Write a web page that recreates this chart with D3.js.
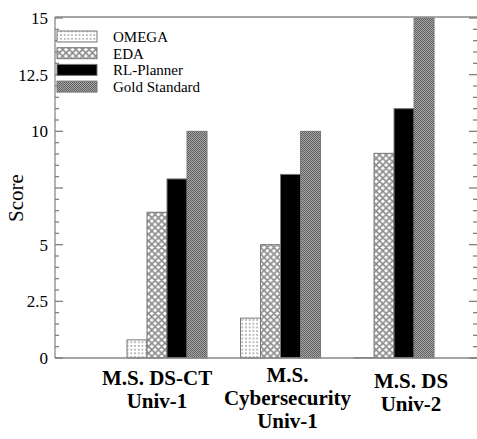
<!DOCTYPE html>
<html>
<head>
<meta charset="utf-8">
<script src="https://cdn.jsdelivr.net/npm/d3@7"></script>
<style>
  html, body { margin: 0; padding: 0; background: #fff; }
  svg { display: block; font-family: "Liberation Serif", "Times New Roman", serif; }
</style>
</head>
<body>
<svg id="chart" width="477" height="439"></svg>
<script>
'use strict'

const groups = [
  ['M.S. DS-CT', 'Univ-1'],
  ['M.S.', 'Cybersecurity', 'Univ-1'],
  ['M.S. DS', 'Univ-2']
]
const seriesNames = ['OMEGA', 'EDA', 'RL-Planner', 'Gold Standard']
const omega = [0.8, 1.76, 0.02]
const eda = [6.43, 5.0, 9.03]
const rlPlanner = [7.9, 8.1, 11.0]
const gold = [10, 10, 15]
const tickLabels = [0, 2.5, 5, 10, 12.5, 15]

const seriesValues = [omega, eda, rlPlanner, gold]
const fills = ['url(#pOmega)', 'url(#pEda)', '#000', 'url(#pGold)']

const svg = d3.select('#chart')
const plotL = 55
const plotR = 475
const plotT = 18
const plotB = 358

const x = d3.scaleLinear().domain([0, 3.7]).range([53.5, 473.5])
const xi = d3.scaleBand().domain(seriesNames).range([-40, 40])
const y = d3.scaleLinear().domain([0, 15]).range([plotB, plotT])

// patterns
const defs = svg.append('defs')
const pO = defs.append('pattern').attr('id', 'pOmega')
  .attr('patternUnits', 'userSpaceOnUse').attr('width', 3.7).attr('height', 3.7)
pO.append('rect').attr('width', 3.7).attr('height', 3.7).attr('fill', '#fff')
pO.append('rect').attr('x', 1.2).attr('y', 1.2).attr('width', 1.2).attr('height', 1.2).attr('fill', '#555')

const pE = defs.append('pattern').attr('id', 'pEda')
  .attr('patternUnits', 'userSpaceOnUse').attr('width', 6.6).attr('height', 6.6)
pE.append('rect').attr('width', 6.6).attr('height', 6.6).attr('fill', '#fff')
pE.append('path').attr('d', 'M0,0L6.6,6.6M6.6,0L0,6.6M-1,5.6L1,7.6M5.6,-1L7.6,1M-1,1L1,-1M5.6,7.6L7.6,5.6')
  .attr('stroke', '#8a8a8a').attr('stroke-width', 1.6)

const pG = defs.append('pattern').attr('id', 'pGold')
  .attr('patternUnits', 'userSpaceOnUse').attr('width', 2).attr('height', 2)
pG.append('rect').attr('width', 2).attr('height', 2).attr('fill', '#a8a8a8')
pG.append('rect').attr('width', 1).attr('height', 1).attr('fill', '#5e5e5e')
pG.append('rect').attr('x', 1).attr('y', 1).attr('width', 1).attr('height', 1).attr('fill', '#5e5e5e')

// bars
seriesNames.forEach((name, s) => {
  svg.append('g').selectAll('rect')
    .data(seriesValues[s])
    .join('rect')
    .attr('x', (d, i) => x(i + 1) + xi(name))
    .attr('width', xi.bandwidth())
    .attr('y', d => y(d))
    .attr('height', d => plotB - y(d))
    .attr('fill', fills[s])
    .attr('stroke', '#777')
    .attr('stroke-width', 1)
})

// frame
const frame = svg.append('g').attr('stroke', '#888').attr('stroke-width', 1.3).attr('fill', 'none')
frame.append('line').attr('x1', plotL).attr('x2', plotR + 2).attr('y1', plotB).attr('y2', plotB)
frame.append('line').attr('x1', plotL).attr('x2', plotR + 2).attr('y1', plotT - 1).attr('y2', plotT - 1)
frame.append('line').attr('x1', plotL).attr('x2', plotL).attr('y1', plotT - 1).attr('y2', plotB)

// ticks
const majors = d3.range(0, 15.01, 2.5)
const minors = d3.range(0, 15.01, 0.5).filter(v => Math.abs(v / 2.5 - Math.round(v / 2.5)) > 1e-6)
const tk = svg.append('g').attr('stroke', '#777').attr('stroke-width', 1.2)
tk.selectAll('.maj').data(majors).join('line').attr('class', 'maj')
  .attr('x1', plotL).attr('x2', plotL + 8).attr('y1', d => y(d)).attr('y2', d => y(d))
tk.selectAll('.min').data(minors).join('line').attr('class', 'min')
  .attr('x1', plotL).attr('x2', plotL + 4).attr('y1', d => y(d)).attr('y2', d => y(d))
tk.selectAll('.rmaj').data(majors).join('line').attr('class', 'rmaj')
  .attr('x1', plotR + 2).attr('x2', plotR - 6).attr('y1', d => y(d)).attr('y2', d => y(d))
tk.selectAll('.rmin').data(minors).join('line').attr('class', 'rmin')
  .attr('x1', plotR + 2).attr('x2', plotR - 2).attr('y1', d => y(d)).attr('y2', d => y(d))

svg.append('g').selectAll('text')
  .data(tickLabels)
  .join('text')
  .attr('x', plotL - 7)
  .attr('y', d => y(d) + 6)
  .attr('text-anchor', 'end')
  .attr('font-size', 17)
  .text(d => d)

svg.append('text')
  .attr('transform', `translate(23, ${(plotT + plotB) / 2 + 10}) rotate(-90)`)
  .attr('text-anchor', 'middle')
  .attr('font-size', 21)
  .text('Score')

// category labels
const labelShift = [-10, 7, 17]
const labelTop = [385, 382, 388]
groups.forEach((lines, i) => {
  const t = svg.append('text')
    .attr('text-anchor', 'middle')
    .attr('font-size', 21)
    .attr('font-weight', 'bold')
  lines.forEach((ln, j) => {
    t.append('tspan')
      .attr('x', x(i + 1) + labelShift[i])
      .attr('y', labelTop[i] + j * 23)
      .text(ln)
  })
})

// legend
const lg = svg.append('g')
seriesNames.forEach((name, s) => {
  const ry = 31 + s * 16.7
  lg.append('rect')
    .attr('x', 57).attr('y', ry).attr('width', 40).attr('height', 11)
    .attr('fill', fills[s]).attr('stroke', '#777').attr('stroke-width', 1)
  lg.append('text')
    .attr('x', 113).attr('y', ry + 11)
    .attr('font-size', 15)
    .text(name)
})
</script>
</body>
</html>
